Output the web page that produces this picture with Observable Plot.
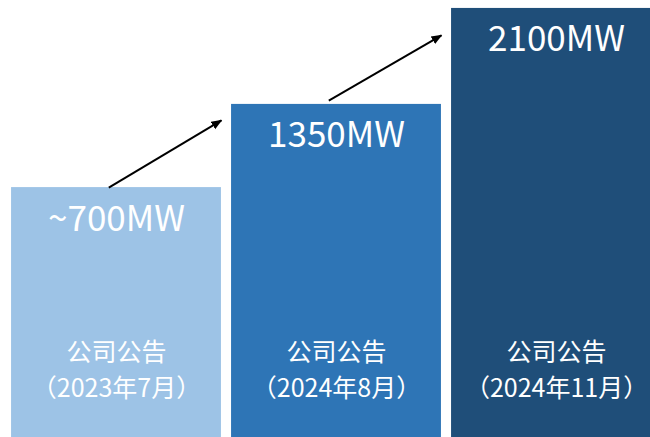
<!DOCTYPE html>
<html><head><meta charset="utf-8">
<script src="https://cdn.jsdelivr.net/npm/d3@7"></script>
<script src="https://cdn.jsdelivr.net/npm/@observablehq/plot@0.6"></script>
<style>html,body{margin:0;padding:0;background:#fff;overflow:hidden;}</style>
</head><body><div id="chart"></div>
<script>
// Data
const capacityLabels = ["~700MW", "1350MW", "2100MW"];
const capacityMW = [700, 1350, 2100];
const sourceLabels = ["公司公告\n（2023年7月）", "公司公告\n（2024年8月）", "公司公告\n（2024年11月）"];
const barColors = ["#9DC3E6", "#2E75B6", "#1F4E79"];
const arrowStartMW = [700, 1380];
const arrowEndMW = [1225, 1890];
const axisFloorMW = -1253;
const axisTopMW = 2162;

const halfBar = 0.477;
const arrowStartOffset = -0.035;

const bars = capacityMW.map((v, i) => ({i, v, label: capacityLabels[i], source: sourceLabels[i], color: barColors[i]}));
const arrows = arrowStartMW.map((s, i) => ({i, s, e: arrowEndMW[i]}));

const chart = Plot.plot({
  width: 650,
  height: 437,
  margin: 0,
  x: {type: "linear", domain: [0, 2], range: [116, 556], axis: null},
  y: {domain: [axisFloorMW, axisTopMW], axis: null},
  color: {type: "identity"},
  style: {fontFamily: "'Noto Sans CJK SC', 'Noto Sans', sans-serif", background: "white", overflow: "hidden"},
  marks: [
    Plot.rectY(bars, {x1: d => d.i - halfBar, x2: d => d.i + halfBar, y1: d => axisFloorMW, y2: "v", fill: "color"}),
    Plot.text(bars, {x: "i", y: "v", text: "label", fill: "white", fontSize: 35, lineAnchor: "bottom", dy: 43}),
    Plot.text(bars, {x: "i", frameAnchor: "bottom", text: "source", fill: "white", fontSize: 25, lineAnchor: "bottom", lineHeight: 1.42, dy: -41}),
    Plot.link(arrows, {x1: d => d.i + arrowStartOffset, y1: "s", x2: d => d.i + halfBar, y2: "e", stroke: "black", strokeWidth: 2})
  ]
});

document.getElementById("chart").appendChild(chart);

// filled arrowheads
const svg = d3.select(chart);
svg.append("defs").append("marker")
  .attr("id", "head")
  .attr("viewBox", "0 -5 10 10")
  .attr("refX", 9)
  .attr("refY", 0)
  .attr("markerUnits", "userSpaceOnUse")
  .attr("markerWidth", 11)
  .attr("markerHeight", 11)
  .attr("orient", "auto")
  .append("path")
  .attr("d", "M0,-4L10,0L0,4Z")
  .attr("fill", "black");
svg.selectAll('g[aria-label="link"] path').attr("marker-end", "url(#head)");
</script>
</body></html>
